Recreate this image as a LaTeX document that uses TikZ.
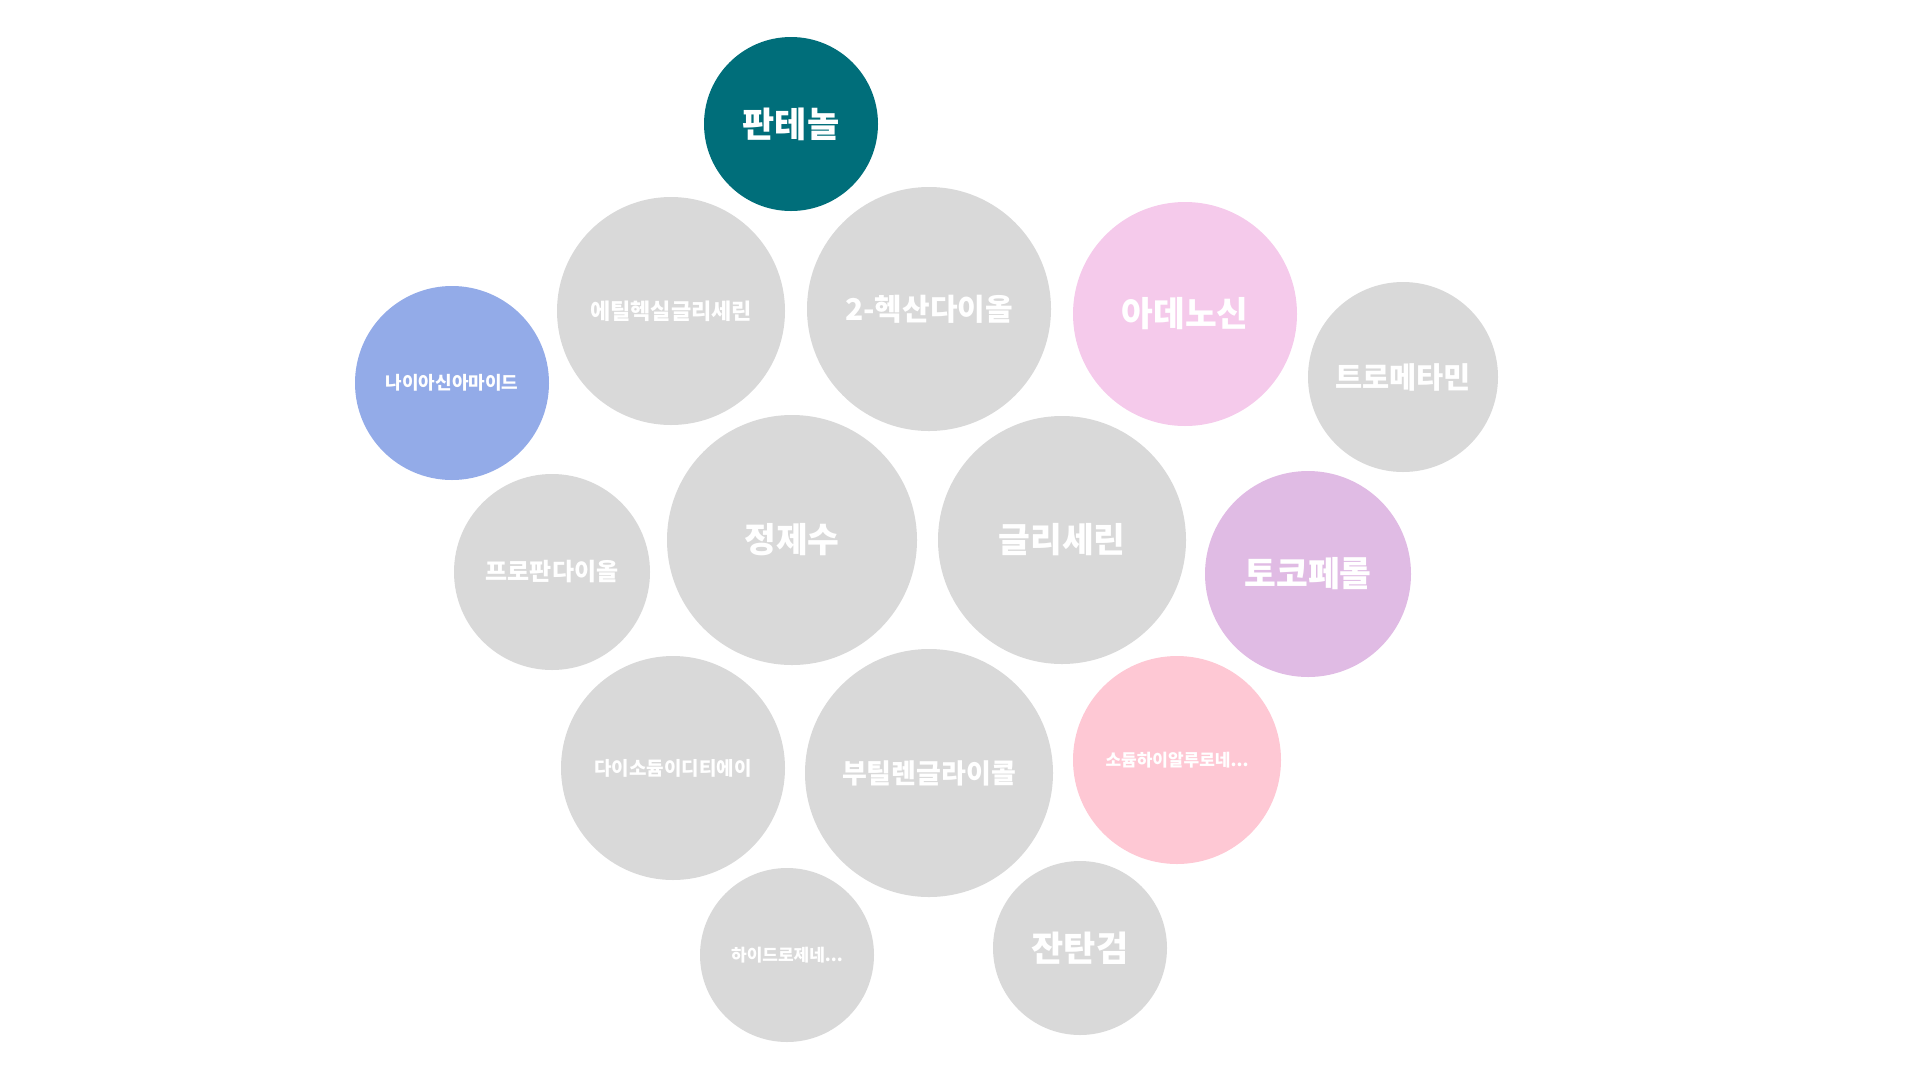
\documentclass[tikz,border=0pt]{standalone}
\usepackage{fontspec}
\setmainfont{Noto Sans CJK KR}
\usepackage{xcolor}
\usepackage{tikz}
\definecolor{tealEscuro}{HTML}{006E7A}
\definecolor{azulClaro}{HTML}{93ABE8}
\definecolor{rosaClaro}{HTML}{F5CAEB}
\definecolor{lilas}{HTML}{E0BBE4}
\definecolor{rosaSalmao}{HTML}{FEC8D4}
\definecolor{cinzaClaro}{HTML}{D9D9D9}
\newcommand{\tamanho}[1]{\fontsize{#1}{#1}\selectfont\bfseries}
\tikzset{
    bolha/.style={
        circle,
        inner sep=0pt,
        text=white,
        align=center
    },
    bolhaCinza/.style={bolha, fill=cinzaClaro},
    bolhaTeal/.style={bolha, fill=tealEscuro},
    bolhaAzul/.style={bolha, fill=azulClaro},
    bolhaRosa/.style={bolha, fill=rosaClaro},
    bolhaLilas/.style={bolha, fill=lilas},
    bolhaSalmao/.style={bolha, fill=rosaSalmao}
}

\begin{document}
\begin{tikzpicture}[x=1pt, y=-1pt]
    \useasboundingbox (0,0) rectangle (1920,1080);

    \node[bolhaTeal, minimum size=174pt, font=\tamanho{35}] (pantenol) at (791,124) {판테놀};
    \node[bolhaCinza, minimum size=228pt, font=\tamanho{22}] (etilhexil) at (671,311) {에틸헥실글리세린};
    \node[bolhaCinza, minimum size=244pt, font=\tamanho{30}] (hexanodiol) at (929,309) {2-헥산다이올};
    \node[bolhaRosa, minimum size=224pt, font=\tamanho{34.5}] (adenosina) at (1185,314) {아데노신};
    \node[bolhaCinza, minimum size=190pt, font=\tamanho{29.5}] (trometamina) at (1403,377) {트로메타민};
    \node[bolhaAzul, minimum size=194pt, font=\tamanho{18}] (niacinamida) at (452,383) {나이아신아마이드};
    \node[bolhaCinza, minimum size=196pt, font=\tamanho{24}] (propanodiol) at (552,572) {프로판다이올};
    \node[bolhaCinza, minimum size=250pt, font=\tamanho{34.5}] (agua) at (792,540) {정제수};
    \node[bolhaCinza, minimum size=248pt, font=\tamanho{34.5}] (glicerina) at (1062,540) {글리세린};
    \node[bolhaLilas, minimum size=206pt, font=\tamanho{34.5}] (tocoferol) at (1308,574) {토코페롤};
    \node[bolhaCinza, minimum size=224pt, font=\tamanho{19}] (edta) at (673,768) {다이소듐이디티에이};
    \node[bolhaCinza, minimum size=248pt, font=\tamanho{27}] (butilenoglicol) at (929,773) {부틸렌글라이콜};
    \node[bolhaSalmao, minimum size=208pt, font=\tamanho{17}] (hialuronato) at (1177,760) {소듐하이알루로네...};
    \node[bolhaCinza, minimum size=174pt, font=\tamanho{17}] (hidrogenado) at (787,955) {하이드로제네...};
    \node[bolhaCinza, minimum size=174pt, font=\tamanho{35}] (xantana) at (1080,948) {잔탄검};
\end{tikzpicture}
\end{document}
